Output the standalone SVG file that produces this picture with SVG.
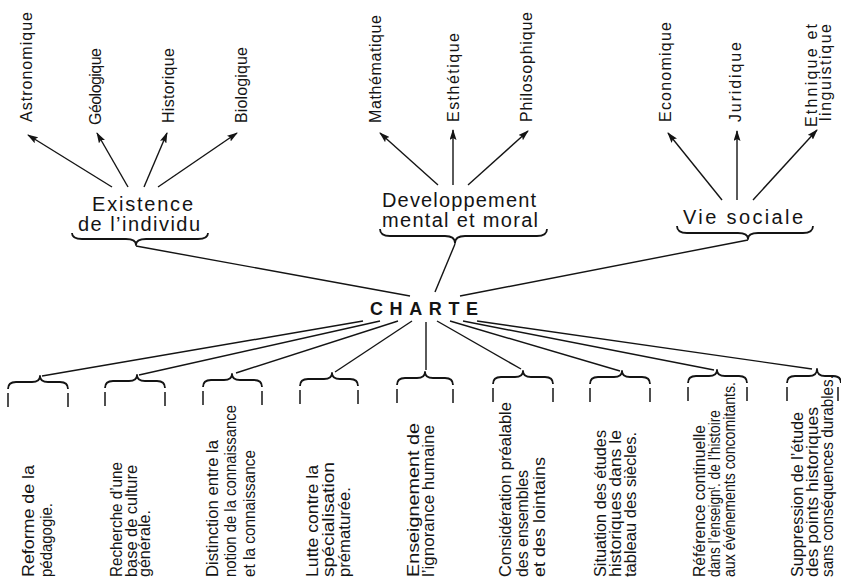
<svg xmlns="http://www.w3.org/2000/svg" width="841" height="585" viewBox="0 0 841 585">
<style>
text{font-family:"Liberation Sans",Arial,sans-serif;fill:#141414}
.t{font-size:16px}
.m{font-size:20px}
.c{font-size:18px;font-weight:bold}
.b{font-size:17px}
.ln{stroke:#141414;stroke-width:1.4;fill:none}
.ar{stroke:#141414;stroke-width:1.4;fill:none;marker-end:url(#ah)}
.br{stroke:#141414;stroke-width:1.8;fill:none;stroke-linejoin:round}
.tk{stroke:#141414;stroke-width:1.5}
</style>
<defs>
<marker id="ah" markerUnits="userSpaceOnUse" markerWidth="11" markerHeight="7" refX="10" refY="3.5" orient="auto">
<path d="M0,0 L11,3.5 L0,7 L2,3.5 z" fill="#141414"/>
</marker>
</defs>
<rect width="841" height="585" fill="#fff"/>

<g id="connectors">
<line class="ar" x1="112" y1="187" x2="28" y2="135"/>
<line class="ar" x1="128" y1="187" x2="97" y2="133"/>
<line class="ar" x1="144" y1="187" x2="167" y2="133"/>
<line class="ar" x1="158" y1="187" x2="237" y2="133"/>
<line class="ar" x1="438" y1="185" x2="380" y2="133"/>
<line class="ar" x1="453" y1="185" x2="453" y2="130"/>
<line class="ar" x1="468" y1="185" x2="528" y2="131"/>
<line class="ar" x1="722" y1="200" x2="668" y2="133"/>
<line class="ar" x1="737" y1="200" x2="737" y2="131"/>
<line class="ar" x1="753" y1="200" x2="817" y2="130"/>
<line class="ln" x1="136" y1="246" x2="410" y2="296"/>
<line class="ln" x1="455" y1="244" x2="435" y2="292"/>
<line class="ln" x1="748" y1="240" x2="460" y2="296"/>
<line class="ln" x1="363" y1="321" x2="42" y2="376"/>
<line class="ln" x1="380" y1="321" x2="139" y2="375"/>
<line class="ln" x1="398" y1="321" x2="236" y2="373"/>
<line class="ln" x1="412" y1="321" x2="335" y2="372"/>
<line class="ln" x1="426" y1="322" x2="426" y2="370"/>
<line class="ln" x1="437" y1="321" x2="521" y2="369"/>
<line class="ln" x1="450" y1="321" x2="620" y2="371"/>
<line class="ln" x1="463" y1="321" x2="714" y2="370"/>
<line class="ln" x1="477" y1="321" x2="812" y2="369"/>
</g>

<g id="top-labels">
<text class="t" transform="translate(32,122) rotate(-90)" textLength="110" lengthAdjust="spacing">Astronomique</text>
<text class="t" transform="translate(101,125) rotate(-90)" textLength="77" lengthAdjust="spacing">Géologique</text>
<text class="t" transform="translate(174,123) rotate(-90)" textLength="75" lengthAdjust="spacing">Historique</text>
<text class="t" transform="translate(247,123) rotate(-90)" textLength="76" lengthAdjust="spacing">Biologique</text>
<text class="t" transform="translate(381,123) rotate(-90)" textLength="108" lengthAdjust="spacing">Mathématique</text>
<text class="t" transform="translate(459,122) rotate(-90)" textLength="89" lengthAdjust="spacing">Esthétique</text>
<text class="t" transform="translate(532,122) rotate(-90)" textLength="110" lengthAdjust="spacing">Philosophique</text>
<text class="t" transform="translate(671,122) rotate(-90)" textLength="100" lengthAdjust="spacing">Economique</text>
<text class="t" transform="translate(741,122) rotate(-90)" textLength="80" lengthAdjust="spacing">Juridique</text>
<text class="t" transform="translate(817,127) rotate(-90)" textLength="103" lengthAdjust="spacing">Ethnique et</text>
<text class="t" transform="translate(831,121) rotate(-90)" textLength="97" lengthAdjust="spacing">linguistique</text>
</g>

<g id="existence">
<text class="m" x="92" y="211" textLength="101" lengthAdjust="spacing">Existence</text>
<text class="m" x="78" y="231" textLength="122" lengthAdjust="spacing">de l’individu</text>
<path class="br" d="M72,233 Q72,239 82,239 L126,239 Q136,239 136,245 Q136,239 146,239 L198,239 Q208,239 208,233"/>
</g>
<g id="developpement">
<text class="m" x="382" y="207" textLength="154" lengthAdjust="spacing">Developpement</text>
<text class="m" x="382" y="227" textLength="156" lengthAdjust="spacing">mental et moral</text>
<path class="br" d="M380,229 Q380,236 390,236 L445,236 Q455,236 455,243 Q455,236 465,236 L537,236 Q547,236 547,229"/>
</g>
<g id="vie-sociale">
<text class="m" x="683" y="224" textLength="120" lengthAdjust="spacing">Vie sociale</text>
<path class="br" d="M677,226 Q677,233 687,233 L738,233 Q748,233 748,239 Q748,233 758,233 L803,233 Q813,233 813,226"/>
</g>

<g id="charte">
<text class="c" x="370" y="315" textLength="108" lengthAdjust="spacing">CHARTE</text>
</g>

<g id="b1">
<path class="br" d="M8,389 Q8,382 16,382 L32,382 Q40,382 40,376 Q40,382 48,382 L60,382 Q68,382 68,389"/>
<line class="tk" x1="8" y1="393" x2="8" y2="407"/><line class="tk" x1="68" y1="393" x2="68" y2="407"/>
<text class="b" transform="translate(34,577) rotate(-90)" textLength="112" lengthAdjust="spacingAndGlyphs">Reforme de la</text>
<text class="b" transform="translate(52,577) rotate(-90)" textLength="74" lengthAdjust="spacingAndGlyphs">pédagogie.</text>
</g>
<g id="b2">
<path class="br" d="M105,388 Q105,381 113,381 L129,381 Q137,381 137,375 Q137,381 145,381 L157,381 Q165,381 165,388"/>
<line class="tk" x1="105" y1="392" x2="105" y2="406"/><line class="tk" x1="165" y1="392" x2="165" y2="406"/>
<text class="b" transform="translate(122,577) rotate(-90)" textLength="115" lengthAdjust="spacingAndGlyphs">Recherche d’une</text>
<text class="b" transform="translate(137,577) rotate(-90)" textLength="112" lengthAdjust="spacingAndGlyphs">base de culture</text>
<text class="b" transform="translate(150,577) rotate(-90)" textLength="67" lengthAdjust="spacingAndGlyphs">générale.</text>
</g>
<g id="b3">
<path class="br" d="M203,387 Q203,380 211,380 L224,380 Q232,380 232,374 Q232,380 240,380 L254,380 Q262,380 262,387"/>
<line class="tk" x1="203" y1="391" x2="203" y2="405"/><line class="tk" x1="262" y1="391" x2="262" y2="405"/>
<text class="b" transform="translate(218,577) rotate(-90)" textLength="137" lengthAdjust="spacingAndGlyphs">Distinction entre la</text>
<text class="b" transform="translate(236,577) rotate(-90)" textLength="172" lengthAdjust="spacingAndGlyphs">notion de la connaissance</text>
<text class="b" transform="translate(255,577) rotate(-90)" textLength="127" lengthAdjust="spacingAndGlyphs">et la connaissance</text>
</g>
<g id="b4">
<path class="br" d="M300,386 Q300,379 308,379 L324,379 Q332,379 332,373 Q332,379 340,379 L350,379 Q358,379 358,386"/>
<line class="tk" x1="300" y1="390" x2="300" y2="404"/><line class="tk" x1="358" y1="390" x2="358" y2="404"/>
<text class="b" transform="translate(318,577) rotate(-90)" textLength="112" lengthAdjust="spacingAndGlyphs">Lutte contre la</text>
<text class="b" transform="translate(334,577) rotate(-90)" textLength="115" lengthAdjust="spacingAndGlyphs">spécialisation</text>
<text class="b" transform="translate(350,577) rotate(-90)" textLength="90" lengthAdjust="spacingAndGlyphs">prématurée.</text>
</g>
<g id="b5">
<path class="br" d="M397,385 Q397,378 405,378 L417,378 Q425,378 425,372 Q425,378 433,378 L445,378 Q453,378 453,385"/>
<line class="tk" x1="397" y1="389" x2="397" y2="403"/><line class="tk" x1="453" y1="389" x2="453" y2="403"/>
<text class="b" transform="translate(419,577) rotate(-90)" textLength="154" lengthAdjust="spacingAndGlyphs">Enseignement de</text>
<text class="b" transform="translate(434,577) rotate(-90)" textLength="152" lengthAdjust="spacingAndGlyphs">l’ignorance humaine</text>
</g>
<g id="b6">
<path class="br" d="M493,384 Q493,377 501,377 L515,377 Q523,377 523,371 Q523,377 531,377 L545,377 Q553,377 553,384"/>
<line class="tk" x1="493" y1="388" x2="493" y2="402"/><line class="tk" x1="553" y1="388" x2="553" y2="402"/>
<text class="b" transform="translate(511,577) rotate(-90)" textLength="175" lengthAdjust="spacingAndGlyphs">Considération préalable</text>
<text class="b" transform="translate(528,577) rotate(-90)" textLength="107" lengthAdjust="spacingAndGlyphs">des ensembles</text>
<text class="b" transform="translate(545,577) rotate(-90)" textLength="120" lengthAdjust="spacingAndGlyphs">et des lointains</text>
</g>
<g id="b7">
<path class="br" d="M590,384 Q590,377 598,377 L614,377 Q622,377 622,371 Q622,377 630,377 L642,377 Q650,377 650,384"/>
<line class="tk" x1="590" y1="388" x2="590" y2="402"/><line class="tk" x1="650" y1="388" x2="650" y2="402"/>
<text class="b" transform="translate(606,577) rotate(-90)" textLength="147" lengthAdjust="spacingAndGlyphs">Situation des études</text>
<text class="b" transform="translate(621,577) rotate(-90)" textLength="147" lengthAdjust="spacingAndGlyphs">historiques dans le</text>
<text class="b" transform="translate(636,577) rotate(-90)" textLength="145" lengthAdjust="spacingAndGlyphs">tableau des siècles.</text>
</g>
<g id="b8">
<path class="br" d="M688,383 Q688,376 696,376 L709,376 Q717,376 717,370 Q717,376 725,376 L739,376 Q747,376 747,383"/>
<line class="tk" x1="688" y1="387" x2="688" y2="401"/><line class="tk" x1="747" y1="387" x2="747" y2="401"/>
<text class="b" transform="translate(705,577) rotate(-90)" textLength="152" lengthAdjust="spacingAndGlyphs">Référence continuelle</text>
<text class="b" transform="translate(720,577) rotate(-90)" textLength="167" lengthAdjust="spacingAndGlyphs">dans l’enseign<tspan dy="-5" font-size="10">t</tspan><tspan dy="5">. de l’histoire</tspan></text>
<text class="b" transform="translate(735,577) rotate(-90)" textLength="195" lengthAdjust="spacingAndGlyphs">aux événements concomitants.</text>
</g>
<g id="b9">
<path class="br" d="M787,383 Q787,376 795,376 L809,376 Q817,376 817,369 Q817,376 825,376 L833,376 Q841,376 841,383"/>
<line class="tk" x1="787" y1="387" x2="787" y2="401"/><line class="tk" x1="838" y1="387" x2="838" y2="401"/>
<text class="b" transform="translate(803,577) rotate(-90)" textLength="165" lengthAdjust="spacingAndGlyphs">Suppression de l’étude</text>
<text class="b" transform="translate(818,577) rotate(-90)" textLength="170" lengthAdjust="spacingAndGlyphs">des points historiques</text>
<text class="b" transform="translate(833,577) rotate(-90)" textLength="202" lengthAdjust="spacingAndGlyphs">sans conséquences durables.</text>
</g>
</svg>
